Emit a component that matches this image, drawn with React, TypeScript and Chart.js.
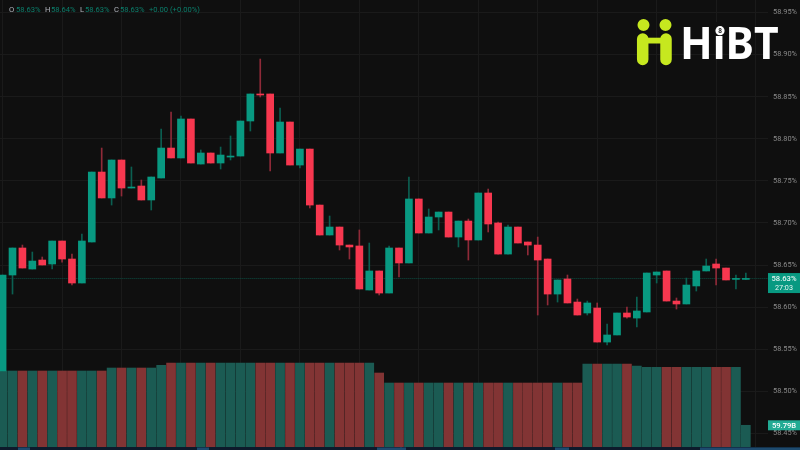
import React, { useEffect, useRef } from "react";
import { Chart, registerables } from "chart.js";

Chart.register(...registerables);

const opens = [58.5242,58.6382,58.6703,58.6453,58.6560,58.6513,58.6786,58.6572,58.6287,58.6774,58.7605,58.7297,58.7748,58.7415,58.7439,58.7273,58.7534,58.7890,58.7772,58.8235,58.7700,58.7831,58.7712,58.7783,58.7795,58.8211,58.8532,58.8532,58.7831,58.8199,58.7688,58.7878,58.7213,58.6857,58.6952,58.6738,58.6727,58.6204,58.6430,58.6168,58.6703,58.6525,58.7285,58.6881,58.7071,58.7130,58.6833,58.7023,58.6798,58.7356,58.7000,58.6631,58.6952,58.6774,58.6738,58.6572,58.6156,58.6335,58.6061,58.5931,58.5990,58.5586,58.5670,58.5931,58.5871,58.5943,58.6382,58.6430,58.6073,58.6038,58.6252,58.6430,58.6513,58.6465,58.6330,58.6330];
const highs = [58.6382,58.6703,58.6738,58.6655,58.6596,58.6786,58.6786,58.6631,58.6869,58.7605,58.7890,58.7748,58.7748,58.7665,58.7510,58.7546,58.8116,58.8318,58.8270,58.8235,58.7867,58.7831,58.7902,58.8033,58.8211,58.8532,58.8947,58.8532,58.8365,58.8199,58.7878,58.7878,58.7213,58.7083,58.6952,58.6738,58.6917,58.6762,58.6430,58.6727,58.6703,58.7546,58.7285,58.7166,58.7130,58.7130,58.7023,58.7047,58.7356,58.7403,58.7012,58.6976,58.6952,58.6774,58.6833,58.6572,58.6323,58.6382,58.6097,58.6073,58.6050,58.5800,58.5931,58.6002,58.6121,58.6406,58.6418,58.6430,58.6109,58.6346,58.6430,58.6572,58.6572,58.6465,58.6382,58.6406];
const lows = [58.5242,58.6156,58.6465,58.6453,58.6501,58.6453,58.6536,58.6263,58.6287,58.6774,58.7297,58.7213,58.7320,58.7415,58.7273,58.7154,58.7534,58.7772,58.7772,58.7712,58.7700,58.7712,58.7641,58.7748,58.7795,58.8092,58.8496,58.7617,58.7831,58.7688,58.7653,58.7178,58.6857,58.6857,58.6679,58.6572,58.6216,58.6204,58.6145,58.6168,58.6358,58.6525,58.6881,58.6881,58.6917,58.6833,58.6715,58.6560,58.6798,58.6893,58.6631,58.6631,58.6762,58.6620,58.5907,58.6026,58.6061,58.6050,58.5907,58.5907,58.5586,58.5551,58.5670,58.5871,58.5765,58.5943,58.6287,58.6073,58.5978,58.6038,58.6192,58.6430,58.6263,58.6323,58.6216,58.6330];
const closes = [58.6382,58.6703,58.6465,58.6548,58.6501,58.6786,58.6572,58.6287,58.6786,58.7605,58.7297,58.7748,58.7415,58.7427,58.7273,58.7546,58.7890,58.7772,58.8235,58.7712,58.7831,58.7712,58.7807,58.7795,58.8211,58.8532,58.8520,58.7831,58.8199,58.7688,58.7878,58.7213,58.6857,58.6952,58.6738,58.6715,58.6216,58.6430,58.6168,58.6703,58.6525,58.7285,58.6881,58.7071,58.7130,58.6833,58.7023,58.6798,58.7356,58.6988,58.6631,58.6952,58.6762,58.6738,58.6560,58.6156,58.6323,58.6050,58.5907,58.6050,58.5586,58.5670,58.5931,58.5883,58.5955,58.6406,58.6418,58.6073,58.6038,58.6263,58.6430,58.6489,58.6465,58.6323,58.6335,58.6335];
const volumes = [191.2,191.2,191.2,191.2,191.2,191.2,191.2,191.2,191.2,191.2,191.2,198.4,198.4,198.4,198.4,198.4,205,210.5,210.5,210.5,210.5,210.5,210.5,210.5,210.5,210.5,210.5,210.5,210.5,210.5,210.5,210.5,210.5,210.5,210.5,210.5,210.5,210.5,186.3,162.1,162.1,162.1,162.1,162.1,162.1,162.1,162.1,162.1,162.1,162.1,162.1,162.1,162.1,162.1,162.1,162.1,162.1,162.1,162.1,208.1,208.1,208.1,208.1,208.1,203.3,200.1,200.1,200.1,200.1,200.1,200.1,200.1,200.1,200.1,200.1,59.79];
const priceTicks = [58.95,58.9,58.85,58.8,58.75,58.7,58.65,58.6,58.55,58.5,58.45];
const timeGrid = [0,6,12,18,24,30,36,42,48,54,60,66,72,76];
const lastPrice = 58.634;
const lastPriceText = "58.63%";
const countdownText = "27:03";
const lastVolume = 59.79;
const lastVolumeText = "59.79B";
const headerParts: [string, string][] = [
  ["O", "58.63%"], ["H", "58.64%"], ["L", "58.63%"], ["C", "58.63%"],
];
const headerChange = "+0.00 (+0.00%)";
const logoText = "HiBT";
const logoBadge = "8";

const GREEN = "#089981";
const RED = "#f7374f";
const BG = "#0f0f0f";
const FONT = "Roboto, sans-serif";

const isUp = (i: number) => closes[i] >= opens[i];

const overlay = {
  id: "overlay",
  beforeDraw(chart: any) {
    const { ctx, width, height } = chart;
    ctx.save();
    ctx.fillStyle = BG;
    ctx.fillRect(0, 0, width, height);
    ctx.restore();
  },
  afterDraw(chart: any) {
    const { ctx, scales, width } = chart;
    ctx.save();
    // bottom strip
    ctx.fillStyle = "#0d1a2b";
    ctx.fillRect(0, 447, width, 3);
    ctx.fillStyle = "#1d4a6e";
    [[18, 12], [197, 12], [377, 25], [400, 6], [555, 14], [700, 100]].forEach(([x, w]) => {
      ctx.fillRect(x, 447.5, w, 2.5);
    });

    // header
    ctx.textBaseline = "middle";
    ctx.textAlign = "left";
    ctx.font = `7.6px ${FONT}`;
    const xs = [[9, 16], [45, 51], [80, 85], [114, 120]];
    headerParts.forEach(([k, v], i) => {
      ctx.fillStyle = "#b2b5be";
      ctx.fillText(k, xs[i][0], 10);
      ctx.fillStyle = "#0b7f6c";
      ctx.fillText(v, xs[i][1], 10);
    });
    ctx.fillText(headerChange, 149, 10);

    // price tag
    const y = scales.y.getPixelForValue(lastPrice);
    ctx.fillStyle = GREEN;
    ctx.fillRect(768, y - 5.5, 32, 20);
    ctx.fillStyle = "#e6f5f2";
    ctx.textAlign = "center";
    ctx.font = `500 7.6px ${FONT}`;
    ctx.fillText(lastPriceText, 784, y + 0.5);
    ctx.font = `7.2px ${FONT}`;
    ctx.fillText(countdownText, 784, y + 9.5);

    // volume tag
    const vy = scales.yVol.getPixelForValue(lastVolume);
    ctx.fillStyle = "#22ab94";
    ctx.fillRect(768, vy - 5, 32, 10);
    ctx.fillStyle = "#ffffff";
    ctx.font = `500 7.6px ${FONT}`;
    ctx.fillText(lastVolumeText, 784, vy + 0.5);

    // logo mark
    ctx.fillStyle = "#c6e81f";
    ctx.beginPath();
    ctx.arc(643.5, 25, 6, 0, Math.PI * 2);
    ctx.arc(665.5, 25, 6, 0, Math.PI * 2);
    ctx.fill();
    ctx.fillRect(646, 37.7, 18, 5.8);
    ctx.strokeStyle = "#c6e81f";
    ctx.lineWidth = 11.5;
    ctx.lineCap = "round";
    ctx.beginPath();
    ctx.moveTo(642.7, 39);
    ctx.lineTo(642.7, 59.5);
    ctx.moveTo(666, 39);
    ctx.lineTo(666, 59.5);
    ctx.stroke();

    // logo word
    ctx.save();
    ctx.fillStyle = "#ffffff";
    ctx.textAlign = "left";
    ctx.textBaseline = "alphabetic";
    ctx.font = `bold 45px "Noto Sans", sans-serif`;
    ctx.translate(680, 59);
    ctx.scale(0.95, 1);
    ctx.fillText(logoText, 0, 0);
    ctx.restore();
    // badge in place of the i's dot
    ctx.fillStyle = BG;
    ctx.fillRect(713, 22, 14, 14);
    ctx.fillStyle = "#ffffff";
    ctx.beginPath();
    ctx.arc(720, 30.7, 4.6, 0, Math.PI * 2);
    ctx.fill();
    ctx.fillStyle = "#1a1a1a";
    ctx.textAlign = "center";
    ctx.textBaseline = "middle";
    ctx.font = `bold 6.5px ${FONT}`;
    ctx.fillText(logoBadge, 720, 31);
    ctx.restore();
  },
};

export default function App() {
  const ref = useRef<HTMLCanvasElement | null>(null);
  useEffect(() => {
    document.body.style.margin = "0";
    document.body.style.background = BG;
    const chart = new Chart(ref.current as HTMLCanvasElement, {
      type: "bar",
      plugins: [overlay],
      data: {
        datasets: [
          {
            type: "line",
            order: 2,
            yAxisID: "y",
            data: [{ x: -0.3, y: lastPrice }, { x: 77.3, y: lastPrice }],
            borderColor: "#0c5044",
            borderWidth: 1,
            borderDash: [1, 1],
            pointRadius: 0,
          },
          {
            type: "bar",
            order: 3,
            yAxisID: "yVol",
            data: volumes.map((v, i) => ({ x: i, y: v })),
            backgroundColor: volumes.map((_, i) => (isUp(i) ? "#1b5b53" : "#823434")),
            barThickness: 9,
            grouped: false,
          },
          {
            type: "bar",
            order: 1,
            yAxisID: "y",
            data: highs.map((h, i) => ({ x: i, y: [lows[i], h] })),
            backgroundColor: highs.map((_, i) => (isUp(i) ? "#0b5f51" : "#8f2a38")),
            barThickness: 1,
            grouped: false,
          },
          {
            type: "bar",
            order: 0,
            yAxisID: "y",
            data: opens.map((o, i) => ({ x: i, y: [o, closes[i]] })),
            backgroundColor: opens.map((_, i) => (isUp(i) ? GREEN : RED)),
            barThickness: 7,
            minBarLength: 1,
            grouped: false,
          },
        ],
      } as any,
      options: {
        animation: false,
        responsive: false,
        devicePixelRatio: 1,
        layout: { padding: 0 },
        plugins: { legend: { display: false }, tooltip: { enabled: false } },
        scales: {
          x: {
            type: "linear",
            offset: false,
            min: -0.2624,
            max: 77.236,
            afterBuildTicks: (s: any) => { s.ticks = timeGrid.map((value) => ({ value })); },
            afterFit: (s: any) => { s.height = 0; },
            grid: { color: "#1a1a1a", offset: false, drawTicks: false },
            border: { display: false },
            ticks: { display: false },
          },
          y: {
            position: "right",
            min: 58.4304,
            max: 58.9648,
            afterBuildTicks: (s: any) => { s.ticks = priceTicks.map((value) => ({ value })); },
            afterFit: (s: any) => { s.width = 32; s.paddingTop = 0; s.paddingBottom = 0; },
            grid: { color: "#1a1a1a", drawTicks: false },
            border: { display: false },
            ticks: {
              color: "#8a8a8a",
              padding: 5,
              font: { family: "Roboto, sans-serif", size: 7.4 },
              callback: (v: any) => `${Number(v).toFixed(2)}%`,
            },
          },
          yVol: { display: false, position: "left", min: 0, max: 1089 },
        },
      } as any,
    });
    return () => chart.destroy();
  }, []);
  return (
    <div style={{ position: "fixed", left: 0, top: 0, width: 800, height: 450 }}>
      <canvas ref={ref} width={800} height={450} style={{ display: "block" }} />
    </div>
  );
}
